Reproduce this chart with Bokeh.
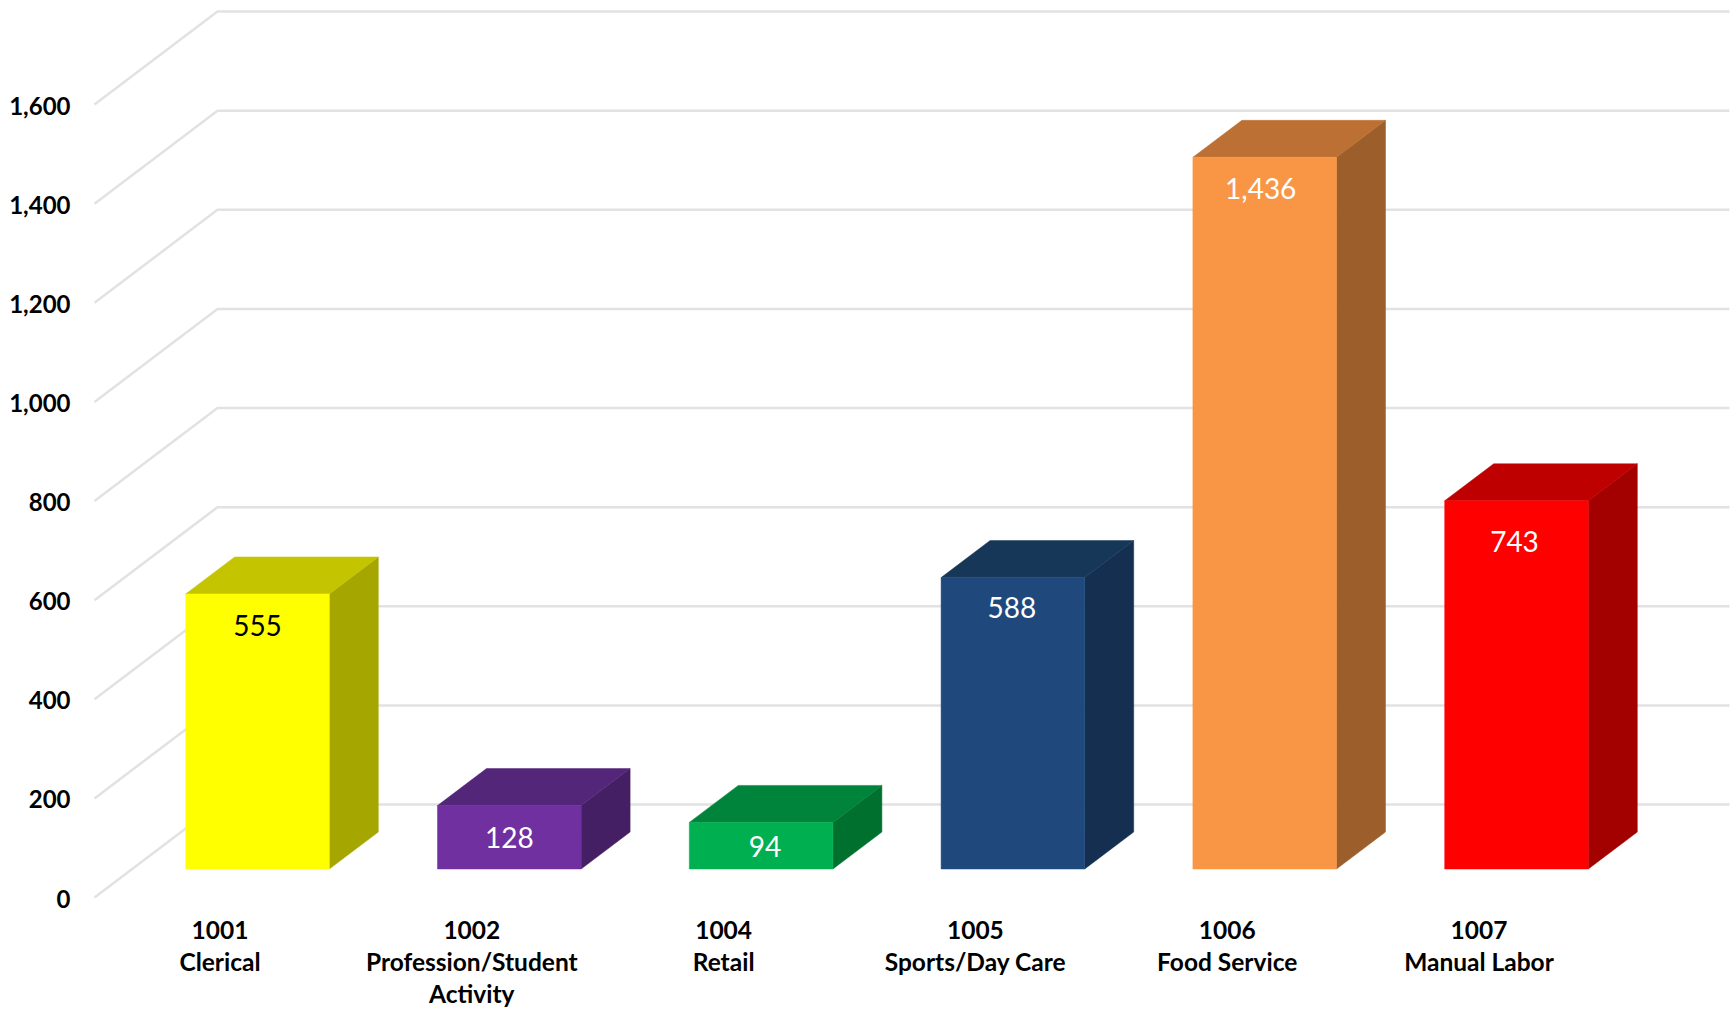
from bokeh.embed import file_html
from bokeh.models import ColumnDataSource, FixedTicker, NumeralTickFormatter, Range1d, LinearAxis
from bokeh.plotting import figure
from bokeh.resources import INLINE
from bokeh.core.properties import value

# Chart data
codes = ["1001", "1002", "1004", "1005", "1006", "1007"]
names = ["Clerical", "Profession/Student\nActivity", "Retail", "Sports/Day Care", "Food Service", "Manual Labor"]
counts = [555, 128, 94, 588, 1436, 743]
y_ticks = [0, 200, 400, 600, 800, 1000, 1200, 1400, 1600]

# Face colours of each column
front_colors = ["#FFFF00", "#7030A0", "#00B050", "#1F497D", "#F99646", "#FF0000"]
top_colors = ["#C4C400", "#54267A", "#00843C", "#173759", "#BD7033", "#BF0000"]
side_colors = ["#A6A600", "#451F63", "#00702F", "#152F50", "#9C5E2B", "#A30000"]
label_colors = ["#000000", "#FFFFFF", "#FFFFFF", "#FFFFFF", "#FFFFFF", "#FFFFFF"]

# Nudges of the value labels from the column's front-face centre, in pixels
label_dx = [0, 0, 4, -1, -4, -2]
label_dy = [32, 32, 24, 30, 31, 41]

# Pixel geometry of the pseudo-3D projection
W, H = 1732, 1013
FRAME_LEFT, FRAME_BOTTOM_GAP = 78, 108
PX_PER_CAT = 251.8
PX_PER_UNIT = 0.4956
ZERO_X, ZERO_Y = 219.5, 897.0
Y_LABEL_DROP = 1

px_x = lambda px: px / PX_PER_CAT
px_y = lambda px: px / PX_PER_UNIT

x_range = Range1d(px_x(FRAME_LEFT - ZERO_X), px_x(W - ZERO_X))
y_range = Range1d(px_y(ZERO_Y - (H - FRAME_BOTTOM_GAP)), px_y(ZERO_Y))

p = figure(
    width=W, height=H, x_range=x_range, y_range=y_range,
    output_backend="svg", toolbar_location=None,
    min_border_left=FRAME_LEFT, min_border_right=0, min_border_top=0,
    min_border_bottom=FRAME_BOTTOM_GAP, x_axis_type=None, y_axis_type=None,
    background_fill_color="#FFFFFF", border_fill_color="#FFFFFF",
)
p.outline_line_color = None
p.grid.visible = False

# The tick labels hang slightly below the ends of the gridlines
p.extra_y_ranges = {"labels": Range1d(
    px_y(ZERO_Y + Y_LABEL_DROP - (H - FRAME_BOTTOM_GAP)), px_y(ZERO_Y + Y_LABEL_DROP)
)}

TICK_FONT = "Lato"

y_axis = LinearAxis(
    y_range_name="labels",
    ticker=FixedTicker(ticks=y_ticks),
    formatter=NumeralTickFormatter(format="0,0"),
    axis_line_color=None, major_tick_line_color=None, minor_tick_line_color=None,
    major_label_text_font=TICK_FONT, major_label_text_font_size="24px",
    major_label_text_font_style="bold", major_label_text_color="#000000",
    major_label_standoff=2,
)
p.add_layout(y_axis, "left")

positions = list(range(len(codes)))
x_axis = LinearAxis(
    ticker=FixedTicker(ticks=positions),
    major_label_overrides={i: f"{c}\n{n}" for i, c, n in zip(positions, codes, names)},
    axis_line_color=None, major_tick_line_color=None, minor_tick_line_color=None,
    major_label_text_font=TICK_FONT, major_label_text_font_size="24.5px",
    major_label_text_font_style="bold", major_label_text_color="#000000",
    major_label_text_line_height=1.12, major_label_standoff=3,
)
p.add_layout(x_axis, "below")

# Wall and floor gridlines: slanted floor run, then the long back-wall run
GRID_X0 = px_x(94 - ZERO_X)
GRID_X1 = px_x(217 - ZERO_X)
GRID_X2 = px_x(1729 - ZERO_X)
GRID_RISE = px_y(93)
p.multi_line(
    xs=[[GRID_X0, GRID_X1, GRID_X2] for _ in y_ticks],
    ys=[[t, t + GRID_RISE, t + GRID_RISE] for t in y_ticks],
    line_color="#E2E2E2", line_width=2.5,
)

# Columns as three faces each
BAR_SHIFT = px_x(37.5)
HALF_W = px_x(143.6 / 2)
DEPTH_X = px_x(49)
DEPTH_Y = px_y(37)
FLOOR_Y = px_y(ZERO_Y - 868.5)

fronts, tops, sides = {"xs": [], "ys": []}, {"xs": [], "ys": []}, {"xs": [], "ys": []}
for i, v in zip(positions, counts):
    x0 = i + BAR_SHIFT - HALF_W
    x1 = i + BAR_SHIFT + HALF_W
    y0 = FLOOR_Y
    y1 = FLOOR_Y + v
    fronts["xs"].append([x0, x1, x1, x0])
    fronts["ys"].append([y0, y0, y1, y1])
    tops["xs"].append([x0, x1, x1 + DEPTH_X, x0 + DEPTH_X])
    tops["ys"].append([y1, y1, y1 + DEPTH_Y, y1 + DEPTH_Y])
    sides["xs"].append([x1, x1 + DEPTH_X, x1 + DEPTH_X, x1])
    sides["ys"].append([y0, y0 + DEPTH_Y, y1 + DEPTH_Y, y1])

for faces, colors in ((sides, side_colors), (tops, top_colors), (fronts, front_colors)):
    src = ColumnDataSource(dict(xs=faces["xs"], ys=faces["ys"], color=colors))
    p.patches("xs", "ys", source=src, fill_color="color", line_color="color", line_width=0.5)

# Value labels sit inside the front face, just under its top edge
label_src = ColumnDataSource(dict(
    x=[i + BAR_SHIFT for i in positions],
    y=[FLOOR_Y + v for v in counts],
    text=[f"{v:,}" for v in counts],
    color=label_colors,
    dx=label_dx,
    dy=label_dy,
))
p.text(
    x="x", y="y", text="text", source=label_src, x_offset="dx", y_offset="dy",
    text_color="color", text_font=value("Lato"), text_font_size="28px",
    text_align="center", text_baseline="middle",
)

open("out.html", "w").write(file_html(p, INLINE))
